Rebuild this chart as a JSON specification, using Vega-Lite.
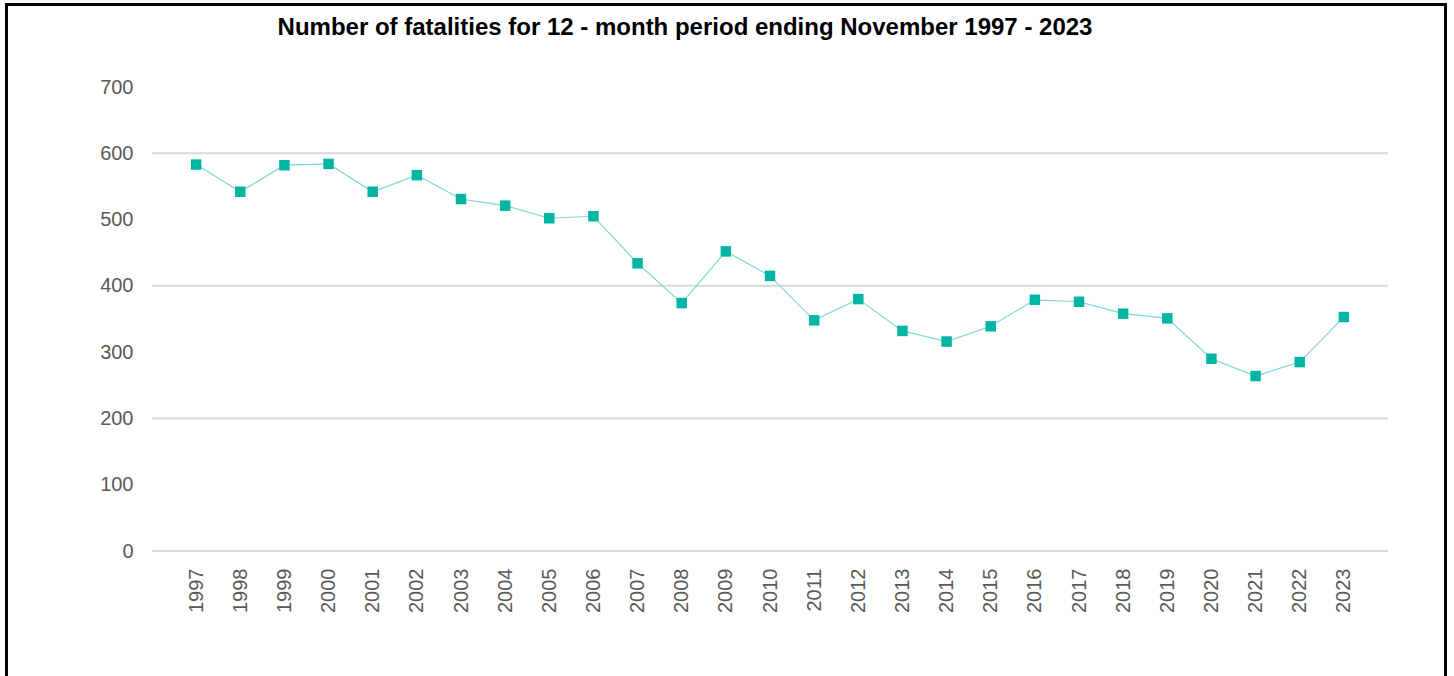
{
  "$schema": "https://vega.github.io/schema/vega-lite/v6.json",
  "autosize": {"type": "none"},
  "padding": {"left": 6.5, "top": 4.5, "right": 8.5, "bottom": 0},
  "width": 1439,
  "height": 700,
  "background": "white",
  "title": {
    "text": "Number of fatalities for 12 - month period ending November 1997 - 2023",
    "font": "Liberation Sans",
    "fontSize": 24,
    "fontWeight": "bold",
    "color": "#000000",
    "anchor": "middle",
    "frame": "group",
    "baseline": "alphabetic",
    "offset": -30,
    "dx": -41,
    "dy": 24
  },
  "config": {
    "view": {"stroke": "#000000", "strokeWidth": 3},
    "axis": {
      "labelFont": "Liberation Sans",
      "labelFontSize": 20,
      "labelColor": "#595959",
      "domain": false,
      "ticks": false,
      "tickSize": 0,
      "grid": false,
      "title": null
    }
  },
  "datasets": {
    "fatalities": [
      {"year": 1997, "fatalities": 583},
      {"year": 1998, "fatalities": 542},
      {"year": 1999, "fatalities": 582},
      {"year": 2000, "fatalities": 584},
      {"year": 2001, "fatalities": 542},
      {"year": 2002, "fatalities": 567},
      {"year": 2003, "fatalities": 531},
      {"year": 2004, "fatalities": 521},
      {"year": 2005, "fatalities": 502},
      {"year": 2006, "fatalities": 505},
      {"year": 2007, "fatalities": 434},
      {"year": 2008, "fatalities": 374},
      {"year": 2009, "fatalities": 452},
      {"year": 2010, "fatalities": 415},
      {"year": 2011, "fatalities": 348},
      {"year": 2012, "fatalities": 380},
      {"year": 2013, "fatalities": 332},
      {"year": 2014, "fatalities": 316},
      {"year": 2015, "fatalities": 339},
      {"year": 2016, "fatalities": 379},
      {"year": 2017, "fatalities": 376},
      {"year": 2018, "fatalities": 358},
      {"year": 2019, "fatalities": 351},
      {"year": 2020, "fatalities": 290},
      {"year": 2021, "fatalities": 264},
      {"year": 2022, "fatalities": 285},
      {"year": 2023, "fatalities": 353}
    ],
    "gridlines": [
      {"level": 0},
      {"level": 200},
      {"level": 400},
      {"level": 600}
    ]
  },
  "layer": [
    {
      "data": {"name": "gridlines"},
      "mark": {"type": "rule", "color": "#d9d9d9", "strokeWidth": 2},
      "encoding": {
        "y": {"field": "level", "type": "quantitative"},
        "x": {"datum": 1996, "type": "quantitative"},
        "x2": {"datum": 2024}
      }
    },
    {
      "data": {"name": "fatalities"},
      "encoding": {
        "x": {
          "field": "year",
          "type": "quantitative",
          "scale": {"domain": [1996, 2024], "range": [145.5, 1381.5], "nice": false, "zero": false},
          "axis": {
            "values": [1997, 1998, 1999, 2000, 2001, 2002, 2003, 2004, 2005, 2006, 2007, 2008, 2009, 2010, 2011, 2012, 2013, 2014, 2015, 2016, 2017, 2018, 2019, 2020, 2021, 2022, 2023],
            "format": "d",
            "labelAngle": -90,
            "labelPadding": 17,
            "offset": -153.5,
            "labelFlush": false,
            "labelOverlap": false
          }
        },
        "y": {
          "field": "fatalities",
          "type": "quantitative",
          "scale": {"domain": [0, 700], "range": [546.5, 82.5], "nice": false},
          "axis": {
            "values": [0, 100, 200, 300, 400, 500, 600, 700],
            "labelPadding": 0,
            "offset": -126.5,
            "labelFlush": false,
            "labelOverlap": false
          }
        }
      },
      "layer": [
        {"mark": {"type": "line", "color": "#7dd9cd", "strokeWidth": 1.2}},
        {"mark": {"type": "point", "shape": "square", "filled": true, "size": 110, "color": "#00b5a4", "opacity": 1}}
      ]
    }
  ]
}
